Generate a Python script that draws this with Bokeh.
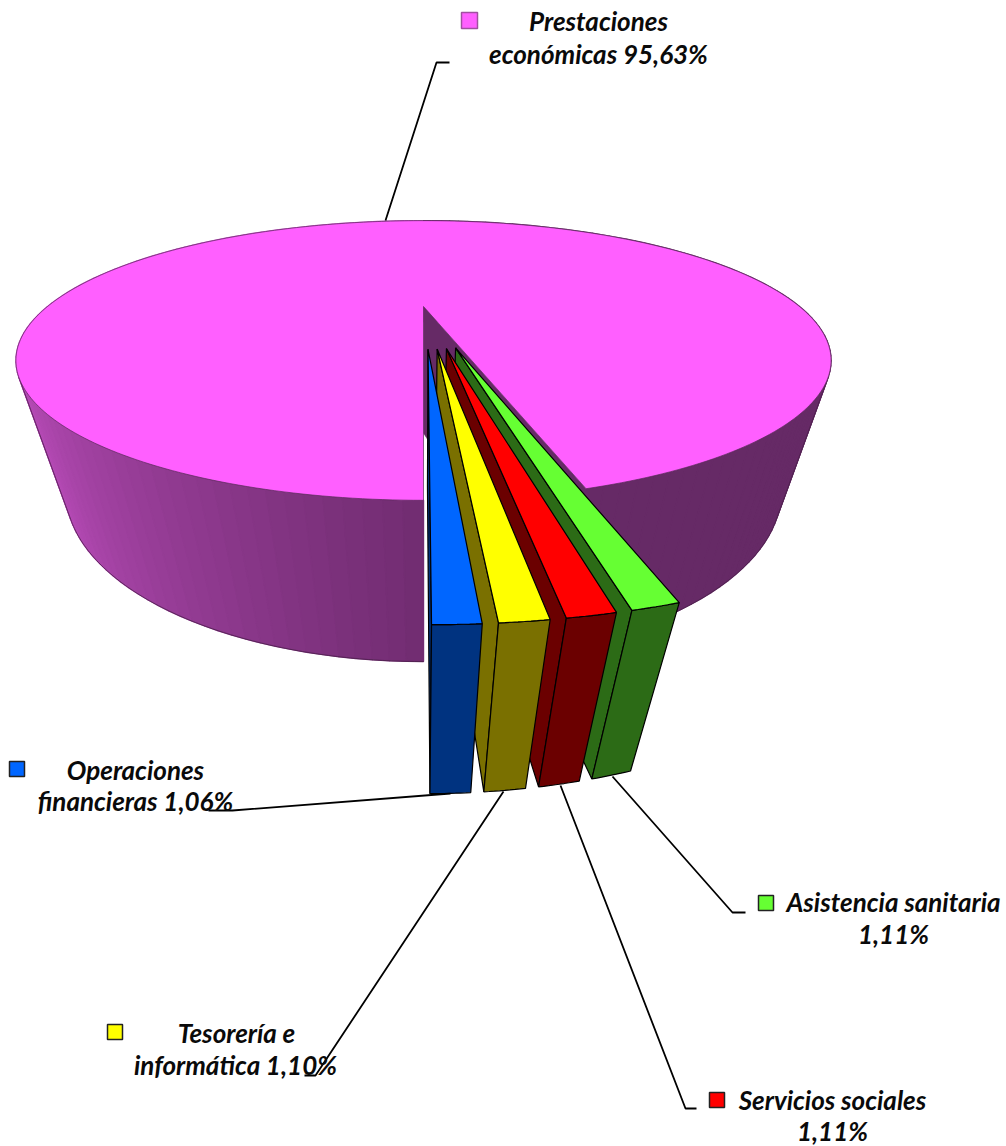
import numpy as np
from bokeh.core.properties import value
from bokeh.embed import file_html
from bokeh.models import Range1d
from bokeh.plotting import figure
from bokeh.resources import INLINE

# Budget shares, clockwise from the front of the pie
categories = ["Operaciones financieras", "Tesorería e informática", "Servicios sociales",
              "Asistencia sanitaria", "Prestaciones económicas"]
shares = [1.06, 1.10, 1.11, 1.11, 95.63]
share_labels = ["1,06%", "1,10%", "1,11%", "1,11%", "95,63%"]

top_colors = ["#0066FF", "#FFFF00", "#FF0000", "#66FF33", "#FF5FFF"]
wall_colors = ["#003380", "#7A7000", "#6B0000", "#2C6B16", "#662A66"]

# Perspective camera: unit-disc coordinates to page pixels
CX, Y0, AX, BY, CZ, KV, MZ = 423.0, 306.0, 376.0, 119.0, 141.6, 0.386, 0.12
EXPLODE = 0.316
# Angle from the front at which the wall's side edge touches the outline of the disc
TANGENT = 61.1


def project(u, v, z=0.0):
    w = 1 - KV * np.asarray(v) + MZ * z
    return CX + AX * np.asarray(u) / w, Y0 + (BY * np.asarray(v) + CZ * z) / w


def rim(a0, a1, n, off=(0.0, 0.0)):
    t = np.radians(np.linspace(a0, a1, n))
    return np.sin(t) + off[0], np.cos(t) + off[1]


def mix(c0, c1, f):
    return "#%02x%02x%02x" % tuple(int(round(a + (b - a) * f)) for a, b in zip(c0, c1))


p = figure(width=1006, height=1146, output_backend="svg", toolbar_location=None,
           x_range=Range1d(0, 1006), y_range=Range1d(1146, 0), min_border=0,
           outline_line_color=None, background_fill_color="white")
p.axis.visible = False
p.grid.visible = False

edges = np.cumsum([0.0] + shares) * 360.0 / sum(shares)
slice_start, slice_end = edges[:-1], edges[1:]

# Large slice: curved wall, shaded lighter towards the left
a0, a1 = slice_start[-1], slice_end[-1]
steps = np.linspace(a0, a1, 181)
xs, ys, cols = [], [], []
for s0, s1 in zip(steps[:-1], steps[1:]):
    u, v = rim(s0, s1, 2)
    xt, yt = project(u, v)
    xb, yb = project(u, v, 1)
    xs.append(list(xt) + list(xb[::-1]))
    ys.append(list(yt) + list(yb[::-1]))
    if s0 < 180:
        cols.append(wall_colors[-1])
    else:
        f = np.clip((s0 - 290) / 70, 0, 1)
        cols.append(mix((0xC4, 0x50, 0xC4), (0x70, 0x2C, 0x70), f))
p.patches(xs, ys, fill_color=cols, line_color=cols, line_width=1.4)

# Dark rim along the wall's side edges and its lower edge, front part only
rim_xs, rim_ys = [], []
for s0, s1 in ((360 - TANGENT, a1), (TANGENT, a0)):
    u, v = rim(s0, s1, 120)
    xb, yb = project(u, v, 1)
    xe, ye = project(u[0], v[0])
    rim_xs.append(np.r_[xe, xb])
    rim_ys.append(np.r_[ye, yb])
p.multi_line(rim_xs, rim_ys, line_color="#4A1F4A", line_width=0.8)

# Its cut face behind the separated slices
u, v = rim(a0, a0, 1)
x_out, y_out = project(u, v)
x_outb, y_outb = project(u, v, 1)
x_c, y_c = project(0, 0)
x_cb, y_cb = project(0, 0, 1)
p.patch([x_c, x_out[0], x_outb[0], x_cb], [y_c, y_out[0], y_outb[0], y_cb],
        fill_color=wall_colors[-1], line_color=wall_colors[-1], line_width=0.6)

# Its top face
u, v = rim(a0, a1, 361)
xt, yt = project(u, v)
p.patch(np.r_[x_c, xt], np.r_[y_c, yt], fill_color=top_colors[-1],
        line_color="#5A2A5A", line_width=0.7)

# Separated slices, right to left so that each one overlaps its neighbour's wall
for i in range(3, -1, -1):
    mid = np.radians((slice_start[i] + slice_end[i]) / 2)
    off = (EXPLODE * np.sin(mid), EXPLODE * np.cos(mid))
    u, v = rim(slice_start[i], slice_end[i], 9, off)
    xt, yt = project(u, v)
    xb, yb = project(u, v, 1)
    ax_t, ay_t = project(off[0], off[1])
    ax_b, ay_b = project(off[0], off[1], 1)
    # radial wall on the left, then the outer wall, then the top
    p.patch([ax_t, xt[0], xb[0], ax_b], [ay_t, yt[0], yb[0], ay_b],
            fill_color=wall_colors[i], line_color="black", line_width=1.2)
    p.patch(np.r_[xt, xb[::-1]], np.r_[yt, yb[::-1]],
            fill_color=wall_colors[i], line_color="black", line_width=1.2)
    p.patch(np.r_[ax_t, xt], np.r_[ay_t, yt], fill_color=top_colors[i],
            line_color="black", line_width=1.2)

# Leader lines
leader_x = [[208, 232, 450], [304, 315, 503], [560, 685, 696], [612, 732, 745], [449, 436, 385]]
leader_y = [[810, 810, 793], [1075, 1075, 791], [785, 1108, 1108], [776, 912, 912], [62, 62, 220]]
p.multi_line(leader_x, leader_y, line_color="black", line_width=1.8)

# Key squares and two-line captions
key_x = [9, 107, 709, 758, 461]
key_y = [761, 1024, 1092, 895, 12]
key_size = [15, 15, 15, 15, 16]
p.quad(left=key_x, right=[x + s for x, s in zip(key_x, key_size)],
       top=key_y, bottom=[y + s for y, s in zip(key_y, key_size)],
       fill_color=top_colors, line_color=["#222222"] * 4 + ["#A050A0"], line_width=1.5)

caption_lines = [
    ("Operaciones", 135, 769), ("financieras " + share_labels[0], 135, 800),
    ("Tesorería e", 236, 1032), ("informática " + share_labels[1], 235, 1064),
    ("Servicios sociales", 832, 1099), (share_labels[2], 832, 1130),
    ("Asistencia sanitaria", 893, 901), (share_labels[3], 893, 933),
    ("Prestaciones", 598, 20), ("económicas " + share_labels[4], 598, 53),
]
p.text([c[1] for c in caption_lines], [c[2] for c in caption_lines], text=[c[0] for c in caption_lines],
        text_font=value("Lato"), text_font_style="bold italic", text_font_size="26px",
        text_align="center", text_baseline="middle", text_color="#0A0A0A")

open("out.html", "w").write(file_html(p, INLINE))
